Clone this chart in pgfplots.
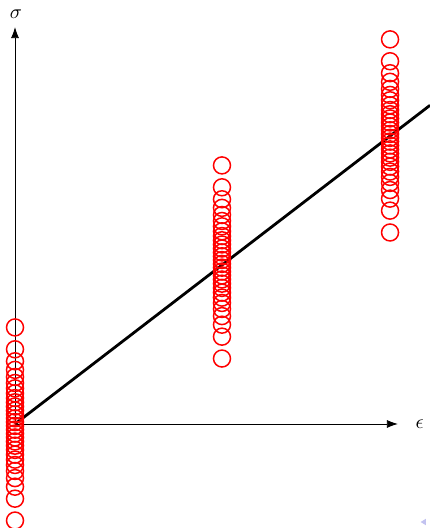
\documentclass[border=0pt]{standalone}
\usepackage{graphicx}
\usepackage{pgfplots}
\pgfplotsset{compat=1.18}
\usetikzlibrary{arrows.meta}

% sample values: same spread at the three strain levels
\pgfplotstableread{
x y
0 -0.596
0 -0.461
0 -0.387
0 -0.334
0 -0.290
0 -0.253
0 -0.220
0 -0.189
0 -0.160
0 -0.134
0 -0.108
0 -0.083
0 -0.059
0 -0.035
0 -0.012
0 0.012
0 0.035
0 0.059
0 0.083
0 0.108
0 0.134
0 0.160
0 0.189
0 0.220
0 0.253
0 0.290
0 0.334
0 0.387
0 0.461
0 0.596
}\groupA
\pgfplotstableread{
x y
1 0.404
1 0.539
1 0.613
1 0.666
1 0.710
1 0.747
1 0.780
1 0.811
1 0.840
1 0.866
1 0.892
1 0.917
1 0.941
1 0.965
1 0.988
1 1.012
1 1.035
1 1.059
1 1.083
1 1.108
1 1.134
1 1.160
1 1.189
1 1.220
1 1.253
1 1.290
1 1.334
1 1.387
1 1.461
1 1.596
}\groupB
\pgfplotstableread{
x y
1.812 1.182
1.812 1.317
1.812 1.391
1.812 1.444
1.812 1.488
1.812 1.525
1.812 1.558
1.812 1.589
1.812 1.618
1.812 1.644
1.812 1.670
1.812 1.695
1.812 1.719
1.812 1.743
1.812 1.766
1.812 1.790
1.812 1.813
1.812 1.837
1.812 1.861
1.812 1.886
1.812 1.912
1.812 1.938
1.812 1.967
1.812 1.998
1.812 2.031
1.812 2.068
1.812 2.112
1.812 2.165
1.812 2.239
1.812 2.374
}\groupC

\begin{document}
\begin{tikzpicture}
\begin{axis}[
  scale only axis,
  width=430pt, height=528pt,
  xmin=-0.0725, xmax=2.005,
  ymin=-0.642, ymax=2.617,
  hide axis,
]
  \draw[line width=0.8pt, -{Latex[length=11pt,width=8pt]}] (axis cs:0,0) -- (axis cs:1.85,0);
  \draw[line width=0.8pt, -{Latex[length=11pt,width=8pt]}] (axis cs:0,0) -- (axis cs:0,2.45);
  \node[inner sep=0pt] at (axis cs:1.955,0) {\scalebox{2}{$\epsilon$}};
  \node[inner sep=0pt] at (axis cs:0.005,2.53) {\scalebox{2}{$\sigma$}};

  \addplot[black, line width=2.8pt] coordinates {(0,0) (2.005,1.967)};

  \addplot[only marks, mark=o, mark size=8.5pt, mark options={red, line width=1.5pt}] table[x=x,y=y] {\groupA};
  \addplot[only marks, mark=o, mark size=8.5pt, mark options={red, line width=1.5pt}] table[x=x,y=y] {\groupB};
  \addplot[only marks, mark=o, mark size=8.5pt, mark options={red, line width=1.5pt}] table[x=x,y=y] {\groupC};

  \fill[blue!60!gray!30] (axis cs:1.96,-0.605) -- (axis cs:1.985,-0.585) -- (axis cs:1.985,-0.625) -- cycle;
\end{axis}
\pgfresetboundingbox
\path (current axis.south west) rectangle (current axis.north east);
\end{tikzpicture}
\end{document}
